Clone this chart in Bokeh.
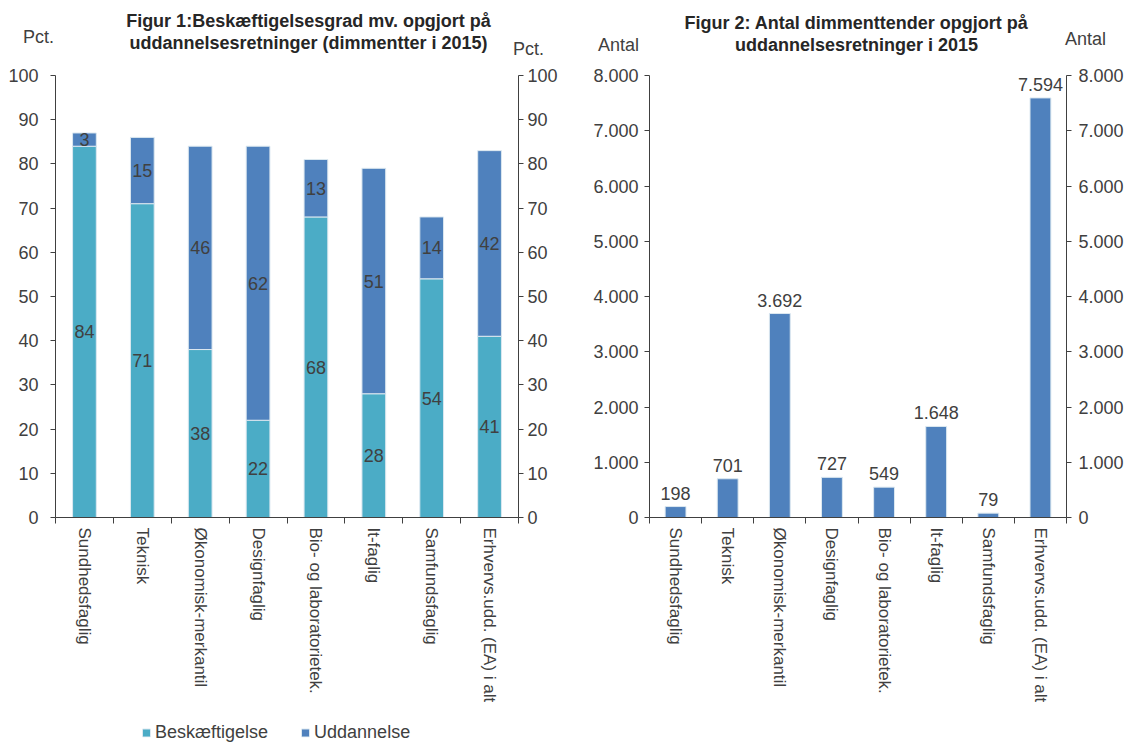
import math
from bokeh.plotting import figure
from bokeh.models import (Range1d, LinearAxis, FixedTicker, LabelSet,
                          ColumnDataSource, Legend, LegendItem)
from bokeh.layouts import row, column
from bokeh.core.properties import value
from bokeh.embed import file_html
from bokeh.resources import INLINE

# ---------------- data ----------------
categories = ["Sundhedsfaglig", "Teknisk", "Økonomisk-merkantil", "Designfaglig",
              "Bio- og laboratorietek.", "It-faglig", "Samfundsfaglig",
              "Erhvervs.udd. (EA) i alt"]
beskaeftigelse = [84, 71, 38, 22, 68, 28, 54, 41]
uddannelse = [3, 15, 46, 62, 13, 51, 14, 42]
antal = [198, 701, 3692, 727, 549, 1648, 79, 7594]
pct_ticks = [0, 10, 20, 30, 40, 50, 60, 70, 80, 90, 100]
antal_ticks = [0, 1000, 2000, 3000, 4000, 5000, 6000, 7000, 8000]
antal_tick_labels = ["0", "1.000", "2.000", "3.000", "4.000", "5.000", "6.000", "7.000", "8.000"]
series_names = ["Beskæftigelse", "Uddannelse"]

title1 = ["Figur 1:Beskæftigelsesgrad mv. opgjort på", "uddannelsesretninger (dimmentter i 2015)"]
title2 = ["Figur 2: Antal dimmenttender opgjort på", "uddannelsesretninger i 2015"]
unit1 = "Pct."
unit2 = "Antal"

FONT = "Liberation Sans"
TXT = "#404040"
AX = "#404040"
C_BESK = "#4BACC6"
C_UDD = "#4F81BD"
EDGE = "#dce8f0"

n = len(categories)
xs = [i + 0.5 for i in range(n)]
overrides = {x: c for x, c in zip(xs, categories)}

W = 1135
HEAD_H = 60
FOOT_H = 20
BODY_H = 742 - HEAD_H - FOOT_H


def fmt_dk(v):
    return f"{v:,}".replace(",", ".")


def style_axis(ax):
    ax.axis_line_color = AX
    ax.major_tick_line_color = AX
    ax.minor_tick_line_color = AX
    ax.major_label_text_font = FONT
    ax.major_label_text_font_size = "18px"
    ax.major_label_text_color = TXT
    ax.minor_tick_out = 0
    ax.minor_tick_in = 0
    ax.major_tick_in = 0
    ax.major_tick_out = 5


def make_xaxis():
    ax = LinearAxis(ticker=FixedTicker(ticks=xs, minor_ticks=list(range(n + 1))),
                    major_label_overrides=overrides)
    style_axis(ax)
    ax.major_label_text_font_size = "17px"
    ax.major_tick_out = 0
    ax.minor_tick_out = 6
    ax.major_label_orientation = -math.pi / 2
    ax.major_label_standoff = 4
    return ax


def bare(fig):
    fig.grid.visible = False
    fig.outline_line_color = None
    return fig


# ---------------- header (titles and unit labels) ----------------
head = bare(figure(width=W, height=HEAD_H, x_range=Range1d(0, W), y_range=Range1d(HEAD_H, 0),
                   output_backend="svg", toolbar_location=None, x_axis_type=None,
                   y_axis_type=None, min_border=0))
head_titles = ColumnDataSource(dict(
    x=[308, 308, 856, 856],
    y=[20, 42, 22, 44],
    t=[title1[0], title1[1], title2[0], title2[1]],
))
head.text(x="x", y="y", text="t", source=head_titles, text_align="center",
          text_baseline="middle", text_font=value(FONT), text_font_size="18px",
          text_font_style="bold", text_color="#262626")
head_units = ColumnDataSource(dict(
    x=[38, 528, 618, 1085],
    y=[36, 48, 44, 38],
    t=[unit1, unit1, unit2, unit2],
))
head.text(x="x", y="y", text="t", source=head_units, text_align="center",
          text_baseline="middle", text_font=value(FONT), text_font_size="18px",
          text_color=TXT)

# ---------------- figure 1 ----------------
p1 = bare(figure(width=583, height=BODY_H, x_range=Range1d(0, n), y_range=Range1d(0, 100),
                 output_backend="svg", toolbar_location=None, x_axis_type=None,
                 y_axis_type=None, min_border_left=55, min_border_right=65,
                 min_border_top=11, min_border_bottom=205))

top_total = [b + u for b, u in zip(beskaeftigelse, uddannelse)]
src1 = ColumnDataSource(dict(
    x=xs, besk=beskaeftigelse, top=top_total, zero=[0] * n,
    besk_mid=[b / 2 for b in beskaeftigelse],
    udd_mid=[b + u / 2 for b, u in zip(beskaeftigelse, uddannelse)],
    besk_txt=[str(b) for b in beskaeftigelse],
    udd_txt=[str(u) for u in uddannelse],
))
p1.vbar(x="x", width=0.41, bottom="zero", top="besk", source=src1,
        fill_color=C_BESK, line_color=EDGE, line_width=1)
p1.vbar(x="x", width=0.41, bottom="besk", top="top", source=src1,
        fill_color=C_UDD, line_color=EDGE, line_width=1)

for col, txt in (("besk_mid", "besk_txt"), ("udd_mid", "udd_txt")):
    p1.add_layout(LabelSet(x="x", y=col, text=txt, source=src1, text_align="center",
                           text_baseline="middle", text_font=value(FONT),
                           text_font_size="18px", text_color=TXT))

ax1l = LinearAxis(ticker=FixedTicker(ticks=pct_ticks))
style_axis(ax1l)
ax1l.major_label_standoff = 12
ax1r = LinearAxis(ticker=FixedTicker(ticks=pct_ticks))
style_axis(ax1r)
ax1r.major_label_standoff = 4
p1.add_layout(ax1l, "left")
p1.add_layout(ax1r, "right")
p1.add_layout(make_xaxis(), "below")

# ---------------- figure 2 ----------------
p2 = bare(figure(width=W - 583, height=BODY_H, x_range=Range1d(0, n), y_range=Range1d(0, 8000),
                 output_backend="svg", toolbar_location=None, x_axis_type=None,
                 y_axis_type=None, min_border_left=66, min_border_right=69,
                 min_border_top=15, min_border_bottom=198))

src2 = ColumnDataSource(dict(x=xs, antal=antal, txt=[fmt_dk(a) for a in antal]))
p2.vbar(x="x", width=0.4, bottom=0, top="antal", source=src2,
        fill_color=C_UDD, line_color=EDGE, line_width=1)
p2.add_layout(LabelSet(x="x", y="antal", text="txt", source=src2, text_align="center",
                       text_baseline="bottom", y_offset=7, text_font=value(FONT),
                       text_font_size="18px", text_color=TXT))

ov2 = {t: l for t, l in zip(antal_ticks, antal_tick_labels)}
ax2l = LinearAxis(ticker=FixedTicker(ticks=antal_ticks), major_label_overrides=ov2)
style_axis(ax2l)
ax2l.major_label_standoff = 6
ax2r = LinearAxis(ticker=FixedTicker(ticks=antal_ticks), major_label_overrides=ov2)
style_axis(ax2r)
ax2r.major_label_standoff = 7
p2.add_layout(ax2l, "left")
p2.add_layout(ax2r, "right")
p2.add_layout(make_xaxis(), "below")

# ---------------- footer (legend of figure 1) ----------------
# legend swatches: one zero-height placeholder per series, lying outside the footer's range
foot = bare(figure(width=W, height=FOOT_H, x_range=Range1d(0, 1), y_range=Range1d(0, 1),
                   output_backend="svg", toolbar_location=None, x_axis_type=None,
                   y_axis_type=None, min_border=0))
swatch = ColumnDataSource(dict(x=[-5], top=[0]))
lr1 = foot.vbar(x="x", top="top", width=0.1, source=swatch, fill_color=C_BESK, line_color=EDGE)
lr2 = foot.vbar(x="x", top="top", width=0.1, source=swatch, fill_color=C_UDD, line_color=EDGE)
legend = Legend(items=[LegendItem(label=series_names[0], renderers=[lr1]),
                       LegendItem(label=series_names[1], renderers=[lr2])],
                orientation="horizontal", location="left",
                glyph_width=10, glyph_height=10, label_standoff=4, spacing=32,
                label_height=18, padding=0, margin=141, border_line_color=None,
                background_fill_alpha=0,
                label_text_font=FONT, label_text_font_size="18px", label_text_color=TXT)
foot.add_layout(legend, "center")

layout = column(head, row(p1, p2), foot)
open("out.html", "w").write(file_html(layout, INLINE))
